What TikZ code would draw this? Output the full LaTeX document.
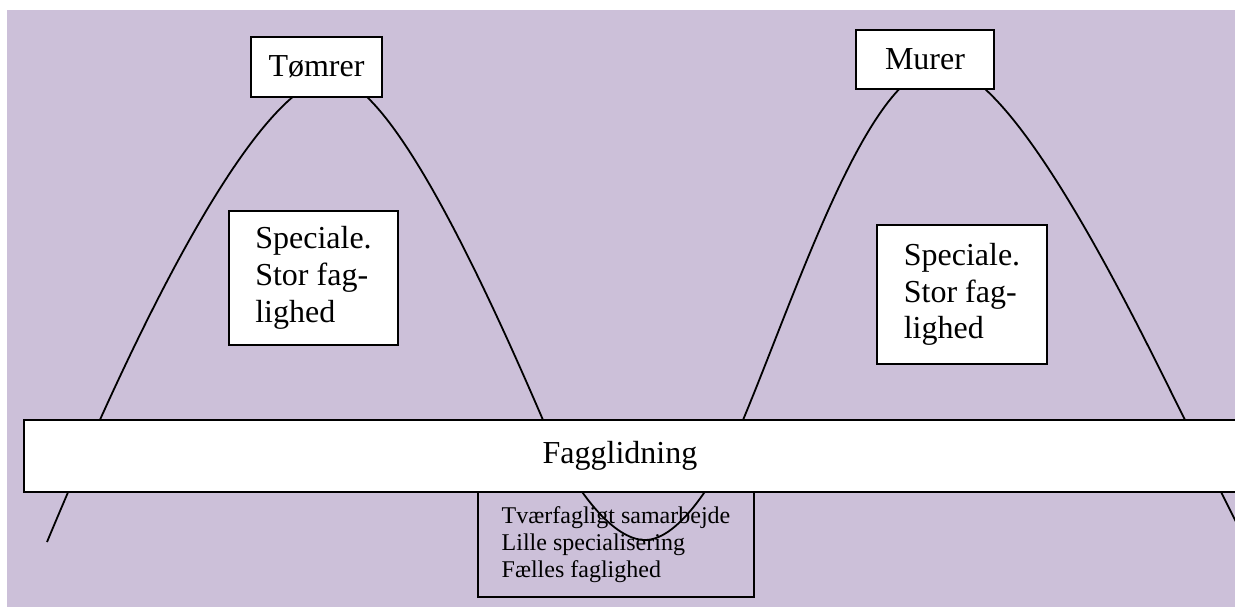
\documentclass[tikz,border=0pt]{standalone}
\usepackage{fontspec}
\setmainfont{Liberation Serif}
\definecolor{lavendel}{HTML}{CCC0D9}
\begin{document}
\begin{tikzpicture}[x=0.5pt, y=-0.5pt,
		boks/.style={draw, line width=0.8pt, fill=white, align=left, inner sep=0pt},
		stor/.style={font=\fontsize{16}{18.4}\selectfont},
		lille/.style={font=\fontsize{12}{13.4}\selectfont},
		bolge/.style={line width=0.9pt}]
			%background
			\useasboundingbox (0,0) rectangle (1235,607);
			\fill[lavendel] (7,10) rectangle (1235,607);
			
			%wave
			\draw[bolge] (47,542) .. controls (200,175) and (288,78) .. (332,78)
				.. controls (385,78) and (470,250) .. (543,420)
				.. controls (575,495) and (615,540) .. (645,540)
				.. controls (680,540) and (720,475) .. (743,420)
				.. controls (800,283) and (870,66) .. (941,66)
				.. controls (1015,66) and (1140,330) .. (1185,420)
				.. controls (1205,460) and (1225,500) .. (1245,540);
			
			%tops
			\node[boks, stor, minimum width=65.5pt, minimum height=30pt] (tomrer) at (316.5,67) {Tømrer};
			\node[boks, stor, minimum width=69pt, minimum height=29.5pt] (murer) at (925,59.5) {Murer};
			\node[boks, stor, minimum width=84.5pt, minimum height=67pt] (special1) at (313.5,278) {Speciale.\\Stor fag-\\lighed};
			\node[boks, stor, minimum width=85pt, minimum height=69.5pt] (special2) at (962,294.5) {Speciale.\\Stor fag-\\lighed};
			
			%band
			\node[boks, anchor=west, minimum width=620pt, minimum height=36pt] (fag) at (23,456) {};
			\node[stor] (fagtekst) at (620,456) {Fagglidning};
			
			%bottom
			\node[boks, lille, fill=none, minimum width=138pt, minimum height=52.5pt] (tvaer) at (616,544.5) {Tværfagligt samarbejde\\Lille specialisering\\Fælles faglighed};
		\end{tikzpicture}
\end{document}
